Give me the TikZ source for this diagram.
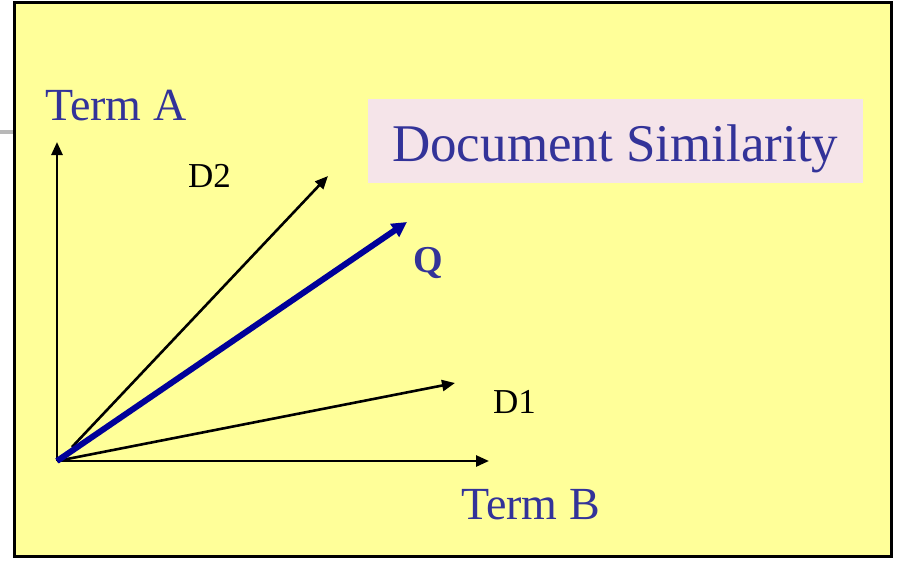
\documentclass[tikz,border=0pt]{standalone}
\usepackage{fontspec}
\setmainfont{Liberation Serif}
\usetikzlibrary{arrows.meta}
\definecolor{slideyellow}{RGB}{255,255,153}
\definecolor{titlepink}{RGB}{245,228,233}
\definecolor{textblue}{RGB}{51,51,153}
\definecolor{qblue}{RGB}{0,0,153}
\tikzset{
  lbl/.style={inner sep=0pt, anchor=base west},
  vec/.style={line width=2.6pt, -{Triangle[length=13pt,width=11pt]}},
  qvec/.style={line width=6pt, color=qblue, -{Triangle[length=15pt,width=15pt]}}
}
\begin{document}
\begin{tikzpicture}[x=1pt,y=-1pt]
\useasboundingbox (0,0) rectangle (897,562);
% slide decoration line
\draw[line width=4pt, color=black!28] (0,132) -- (14,132);
% background frame
\draw[fill=slideyellow, line width=3pt] (14,2) rectangle (891,556);
% title box
\fill[titlepink] (368,99) rectangle (863,183);
\node[lbl, text=textblue] (title) at (392,161) {\fontsize{53}{60}\selectfont Document Similarity};
% coordinates
\coordinate (O) at (57,461);
\coordinate (A) at (57,142);
\coordinate (B) at (489,461);
\coordinate (d1) at (455,383);
\coordinate (d2s) at (72,447);
\coordinate (d2) at (328,176);
\coordinate (q) at (407,222);
% axes and vectors
\draw[vec] (O) -- (A);
\draw[vec] (O) -- (B);
\draw[vec] (O) -- (d1);
\draw[vec] (d2s) -- (d2);
\draw[qvec] (O) -- (q);
% labels
\node[lbl, text=textblue] (termA) at (45,120) {\fontsize{46}{52}\selectfont Term A};
\node[lbl, text=textblue] (termB) at (461,519) {\fontsize{46}{52}\selectfont Term B};
\node[lbl] (labD2) at (188,187) {\fontsize{35}{40}\selectfont D2};
\node[lbl] (labD1) at (493,413) {\fontsize{35}{40}\selectfont D1};
\node[lbl, text=textblue] (labQ) at (413,272) {\fontsize{38}{44}\selectfont\bfseries Q};
\end{tikzpicture}
\end{document}
